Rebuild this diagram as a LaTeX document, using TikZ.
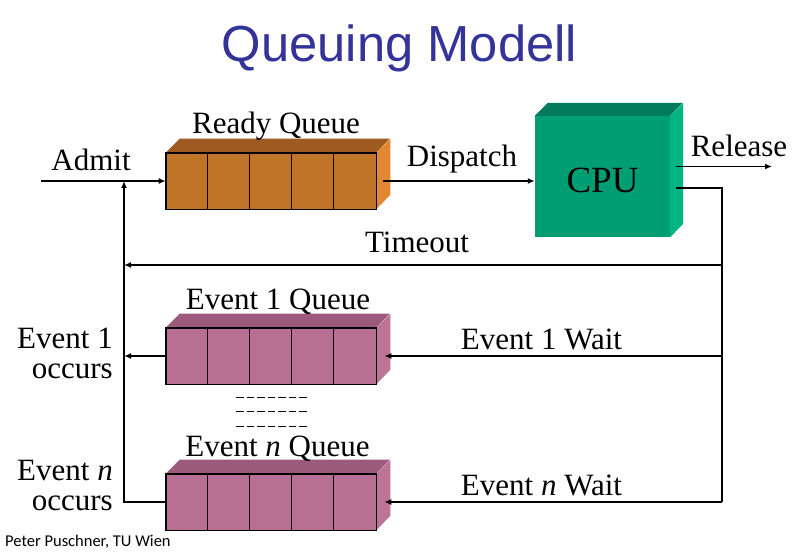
\documentclass[tikz,border=0pt]{standalone}
\usepackage{fontspec}
\setmainfont{Liberation Serif}
\newfontfamily\titlefont{Liberation Sans}
\newfontfamily\footfont{Carlito}
\usetikzlibrary{arrows.meta}

\definecolor{titleblue}{RGB}{51,51,153}
\definecolor{readyfront}{RGB}{192,116,40}
\definecolor{readytop}{RGB}{158,90,32}
\definecolor{readyside}{RGB}{226,136,50}
\definecolor{eventfront}{RGB}{183,112,148}
\definecolor{eventtop}{RGB}{156,90,124}
\definecolor{eventside}{RGB}{190,116,152}
\definecolor{cpufront}{RGB}{0,158,115}
\definecolor{cputop}{RGB}{0,122,92}
\definecolor{cpuside}{RGB}{0,180,132}

\tikzset{
  qfront/.style={draw=black, line width=0.6pt, minimum width=210pt, minimum height=56pt, inner sep=0pt},
  flow/.style={line width=1.6pt, -{Latex[length=7pt,width=6pt]}},
  wire/.style={line width=1.6pt},
  lbl/.style={font=\fontsize{31}{31}\selectfont, anchor=base, inner sep=0pt},
  gap/.style={line width=1pt, dash pattern=on 7.5pt off 3pt},
}

\begin{document}
\begin{tikzpicture}[x=1pt,y=-1pt]
    \useasboundingbox (0,0) rectangle (795,553);
    \fill[white] (0,0) rectangle (795,553);

    % queues
    \foreach \q/\yy/\cf/\ct/\cs in {ready/181/readyfront/readytop/readyside,
                                   evone/356/eventfront/eventtop/eventside,
                                   evn/502/eventfront/eventtop/eventside} {
        \node[qfront, fill=\cf] (\q) at (271,\yy) {};
        \fill[\ct] (\q.north west) -- ++(14,-14) -- ++(210,0) -- (\q.north east) -- cycle;   % top
        \fill[\cs] (\q.north east) -- ++(14,-14) -- ++(0,56) -- (\q.south east) -- cycle;    % side
        \foreach \i in {1,...,4}
            \draw[line width=0.6pt] ([xshift=\i*42pt]\q.north west) -- ([xshift=\i*42pt]\q.south west);
        \draw[line width=0.6pt] (\q.north west) -- (\q.north east) -- (\q.south east) -- (\q.south west) -- cycle;
    }
    % more queues in between
    \foreach \d in {397,411.5,426}
        \draw[gap] (236,\d) -- (306.5,\d);

    % CPU
    \node[fill=cpufront, minimum width=135pt, minimum height=121pt, inner sep=0pt,
          text height=33pt, text depth=0pt, font=\fontsize{37}{37}\selectfont] (cpu) at (602.5,176.5) {CPU};
    \fill[cputop] (cpu.north west) -- ++(13,-13) -- ++(135,0) -- (cpu.north east) -- cycle;
    \fill[cpuside] (cpu.north east) -- ++(13,-13) -- ++(0,121) -- (cpu.south east) -- cycle;

    % connectors
    \coordinate (admitin) at (41,181);
    \coordinate (release) at (772,166.5);
    \coordinate (bus) at (722,188);
    \coordinate (timeout) at (722,265);
    \coordinate (leftbus) at (124,265);
    \draw[flow] (admitin) -- (ready.west);
    \draw[flow] ([xshift=7pt]ready.east) -- (cpu.west |- ready.east);
    \draw[flow] ([xshift=6pt,yshift=10pt]cpu.east) -- (release);
    \draw[wire] ([xshift=6pt,yshift=-11.5pt]cpu.east) -- (bus) -- (bus |- evn.east);
    \draw[flow] (timeout) -- (leftbus);
    \draw[flow] (bus |- evone.east) -- ([xshift=8pt]evone.east);
    \draw[flow] (bus |- evn.east) -- ([xshift=8pt]evn.east);
    \draw[flow] (evone.west) -- (leftbus |- evone.west);
    \draw[flow] (evn.west) -- (leftbus |- evn.west) -- (leftbus |- ready.west);

    % labels
    \node[font=\titlefont\fontsize{50.7}{52}\selectfont, text=titleblue, anchor=base, inner sep=0pt] (title) at (399.5,62) {Queuing Modell};
    \node[lbl] (admit) at (91,171) {Admit};
    \node[lbl] (readylbl) at (276,134) {Ready Queue};
    \node[lbl] (dispatch) at (462,167) {Dispatch};
    \node[lbl] (releaselbl) at (739,157) {Release};
    \node[lbl] (timeoutlbl) at (417,253) {Timeout};
    \node[lbl] (evonelbl) at (278,309) {Event 1 Queue};
    \node[lbl] (evonewait) at (541.5,349) {Event 1 Wait};
    \node[lbl] (evnlbl) at (277.5,456) {Event \textit{n} Queue};
    \node[lbl] (evnwait) at (541.5,495) {Event \textit{n} Wait};
    \node[lbl, anchor=base east] (evoneocc) at (113,348) {Event 1};
    \node[lbl, anchor=base east] (evoneocc2) at (113,378) {occurs};
    \node[lbl, anchor=base east] (evnocc) at (113,480) {Event \textit{n}};
    \node[lbl, anchor=base east] (evnocc2) at (113,510) {occurs};
    \node[font=\footfont\fontsize{16.5}{17}\selectfont, anchor=base west, inner sep=0pt] (credit) at (5,546) {Peter Puschner, TU Wien};
\end{tikzpicture}
\end{document}
